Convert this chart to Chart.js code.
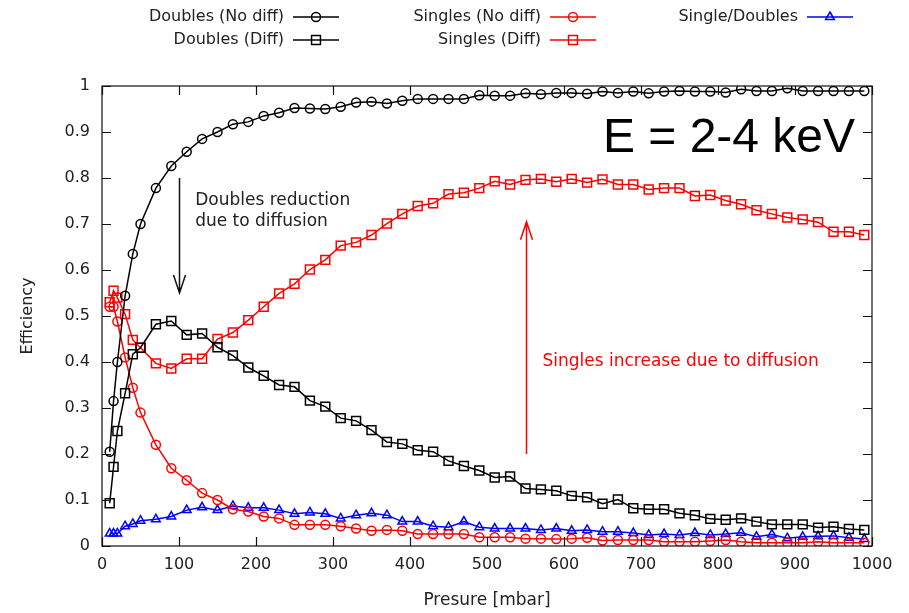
<!DOCTYPE html>
<html>
<head>
<meta charset="utf-8">
<script src="https://cdn.jsdelivr.net/npm/chart.js@4/dist/chart.umd.min.js"></script>
<style>
  body { margin: 0; background: #fff; }
  #wrap { width: 909px; height: 613px; }
</style>
</head>
<body>
<div id="wrap"><canvas id="effChart" width="909" height="613"></canvas></div>
<script>
// pressure points (mbar)
const pressure = [10, 15, 20, 30, 40, 50,
  70, 90, 110, 130, 150, 170, 190, 210, 230, 250,
  270, 290, 310, 330, 350, 370, 390, 410, 430, 450,
  470, 490, 510, 530, 550, 570, 590, 610, 630, 650,
  670, 690, 710, 730, 750, 770, 790, 810, 830, 850,
  870, 890, 910, 930, 950, 970, 990];

const doublesNoDiff = [0.205, 0.315, 0.40, 0.544, 0.635, 0.70,
  0.778, 0.826, 0.857, 0.885, 0.90, 0.917, 0.922, 0.935, 0.942, 0.952,
  0.951, 0.95, 0.955, 0.964, 0.966, 0.962, 0.968, 0.972, 0.972, 0.972,
  0.972, 0.98, 0.979, 0.979, 0.984, 0.982, 0.985, 0.985, 0.983, 0.988,
  0.985, 0.988, 0.984, 0.988, 0.989, 0.988, 0.988, 0.986, 0.993, 0.989,
  0.989, 0.995, 0.989, 0.989, 0.989, 0.989, 0.989];

const doublesDiff = [0.093, 0.172, 0.25, 0.332, 0.417, 0.431,
  0.482, 0.489, 0.459, 0.462, 0.432, 0.414, 0.388, 0.37, 0.35, 0.346,
  0.316, 0.303, 0.278, 0.272, 0.252, 0.226, 0.222, 0.208, 0.205, 0.185,
  0.174, 0.164, 0.149, 0.151, 0.125, 0.123, 0.12, 0.109, 0.106, 0.092,
  0.101, 0.082, 0.08, 0.08, 0.071, 0.067, 0.059, 0.057, 0.06, 0.053,
  0.047, 0.047, 0.047, 0.04, 0.042, 0.037, 0.035];

const singlesNoDiff = [0.52, 0.52, 0.488, 0.41, 0.344, 0.29,
  0.22, 0.169, 0.143, 0.115, 0.10, 0.08, 0.075, 0.064, 0.06, 0.046,
  0.046, 0.046, 0.043, 0.038, 0.033, 0.035, 0.033, 0.026, 0.026, 0.026,
  0.026, 0.019, 0.019, 0.019, 0.016, 0.016, 0.015, 0.016, 0.018, 0.012,
  0.013, 0.013, 0.013, 0.009, 0.009, 0.009, 0.011, 0.013, 0.009, 0.007,
  0.007, 0.007, 0.007, 0.009, 0.007, 0.007, 0.007];

const singlesDiff = [0.53, 0.555, 0.54, 0.504, 0.448, 0.431,
  0.397, 0.386, 0.407, 0.407, 0.45, 0.464, 0.491, 0.52, 0.549, 0.57,
  0.601, 0.622, 0.653, 0.66, 0.676, 0.701, 0.722, 0.739, 0.745, 0.765,
  0.768, 0.778, 0.793, 0.786, 0.796, 0.798, 0.792, 0.798, 0.79, 0.797,
  0.786, 0.786, 0.775, 0.778, 0.778, 0.761, 0.763, 0.751, 0.743, 0.73,
  0.722, 0.714, 0.71, 0.704, 0.683, 0.683, 0.676];

const singleOverDoubles = [0.027, 0.027, 0.027, 0.043, 0.048, 0.055,
  0.058, 0.064, 0.078, 0.084, 0.078, 0.087, 0.083, 0.083, 0.078, 0.07,
  0.073, 0.07, 0.06, 0.067, 0.071, 0.067, 0.053, 0.053, 0.043, 0.041,
  0.053, 0.041, 0.038, 0.038, 0.038, 0.035, 0.038, 0.033, 0.035, 0.031,
  0.031, 0.028, 0.024, 0.026, 0.024, 0.028, 0.024, 0.026, 0.029, 0.02,
  0.025, 0.017, 0.02, 0.021, 0.022, 0.018, 0.015];

const FONT = 'DejaVu Sans';
const TEXT = '#222';

function series(label, ys, color, style, radius) {
  return {
    label: label,
    data: pressure.map((x, i) => ({ x: x, y: ys[i] })),
    borderColor: color,
    backgroundColor: 'rgba(0,0,0,0)',
    borderWidth: 1.5,
    pointStyle: style,
    pointRadius: radius,
    pointBorderWidth: 1.5,
    pointBorderColor: color,
    pointBackgroundColor: 'rgba(0,0,0,0)',
    tension: 0
  };
}

// frame, inward ticks, legend and annotations, gnuplot-like
const decorations = {
  id: 'decorations',
  afterDraw(chart) {
    const ctx = chart.ctx;
    const { left, right, top, bottom } = chart.chartArea;
    const xs = chart.scales.x, ys = chart.scales.y;
    ctx.save();

    ctx.strokeStyle = '#111';
    ctx.lineWidth = 1.2;
    ctx.strokeRect(left, top, right - left, bottom - top);
    ctx.beginPath();
    xs.ticks.forEach(t => {
      const px = Math.round(xs.getPixelForValue(t.value)) + 0.5;
      ctx.moveTo(px, bottom); ctx.lineTo(px, bottom - 9);
      ctx.moveTo(px, top); ctx.lineTo(px, top + 9);
    });
    ys.ticks.forEach(t => {
      const py = Math.round(ys.getPixelForValue(t.value)) + 0.5;
      ctx.moveTo(left, py); ctx.lineTo(left + 9, py);
      ctx.moveTo(right, py); ctx.lineTo(right - 9, py);
    });
    ctx.stroke();

    // legend: three columns, two rows, text right-aligned before the sample
    const colRight = [284, 541, 798];
    const rowY = [17, 40];
    ctx.font = '16px "' + FONT + '"';
    ctx.textBaseline = 'middle';
    chart.data.datasets.forEach((ds, i) => {
      const col = Math.floor(i / 2), row = i % 2;
      const tx = colRight[col], ty = rowY[row];
      ctx.fillStyle = TEXT;
      ctx.textAlign = 'right';
      ctx.fillText(ds.label, tx, ty);
      ctx.strokeStyle = ds.borderColor;
      ctx.lineWidth = 1.5;
      ctx.beginPath();
      ctx.moveTo(tx + 9, ty); ctx.lineTo(tx + 55, ty);
      ctx.stroke();
      ctx.fillStyle = 'rgba(0,0,0,0)';
      Chart.helpers.drawPoint(ctx, {
        pointStyle: ds.pointStyle, radius: ds.pointRadius, rotation: 0, borderWidth: 1.5
      }, tx + 32, ty);
    });

    // arrows
    function arrow(x, y0, y1, color) {
      const px = Math.round(xs.getPixelForValue(x)) + 0.5;
      const pa = ys.getPixelForValue(y0), pb = ys.getPixelForValue(y1);
      const dir = pb > pa ? 1 : -1;
      ctx.strokeStyle = color;
      ctx.lineWidth = 1.5;
      ctx.beginPath();
      ctx.moveTo(px, pa); ctx.lineTo(px, pb);
      ctx.moveTo(px - 6, pb - dir * 18); ctx.lineTo(px, pb); ctx.lineTo(px + 6, pb - dir * 18);
      ctx.stroke();
    }
    arrow(100, 0.8, 0.55, '#111');
    arrow(550, 0.2, 0.705, '#ff0000');

    ctx.textAlign = 'left';
    ctx.fillStyle = TEXT;
    ctx.font = '17px "' + FONT + '"';
    ctx.fillText('Doubles reduction', xs.getPixelForValue(121), ys.getPixelForValue(0.75));
    ctx.fillText('due to diffusion', xs.getPixelForValue(121), ys.getPixelForValue(0.705));
    ctx.fillStyle = '#ff0000';
    ctx.fillText('Singles increase due to diffusion', xs.getPixelForValue(572), ys.getPixelForValue(0.402));

    ctx.fillStyle = '#000';
    ctx.font = '48px "Liberation Sans"';
    ctx.textAlign = 'right';
    ctx.textBaseline = 'alphabetic';
    ctx.fillText('E = 2-4 keV', xs.getPixelForValue(978), ys.getPixelForValue(0.857));
    ctx.restore();
  }
};

new Chart(document.getElementById('effChart'), {
  type: 'line',
  data: {
    datasets: [
      series('Doubles (No diff)', doublesNoDiff, '#000000', 'circle', 4.5),
      series('Doubles (Diff)', doublesDiff, '#000000', 'rect', 6.3),
      series('Singles (No diff)', singlesNoDiff, '#ff0000', 'circle', 4.5),
      series('Singles (Diff)', singlesDiff, '#ff0000', 'rect', 6.3),
      series('Single/Doubles', singleOverDoubles, '#0000ff', 'triangle', 5)
    ]
  },
  options: {
    responsive: false,
    animation: false,
    layout: { padding: { top: 86, right: 37, left: 0, bottom: 0 } },
    plugins: {
      legend: { display: false },
      tooltip: { enabled: false }
    },
    scales: {
      x: {
        type: 'linear',
        min: 0,
        max: 1000,
        afterFit: s => { s.height = 67; },
        grid: { display: false, drawTicks: false },
        border: { display: false },
        ticks: {
          stepSize: 100,
          padding: 9,
          color: TEXT,
          font: { family: FONT, size: 16 },
          maxRotation: 0,
          callback: v => String(v)
        },
        title: {
          display: true,
          text: 'Presure [mbar]',
          color: TEXT,
          font: { family: FONT, size: 17 },
          padding: { top: 0, bottom: 2 }
        }
      },
      y: {
        min: 0,
        max: 1,
        afterFit: s => { s.width = 102; },
        grid: { display: false, drawTicks: false },
        border: { display: false },
        ticks: {
          stepSize: 0.1,
          padding: 12,
          color: TEXT,
          font: { family: FONT, size: 16 },
          callback: v => String(Math.round(v * 10) / 10)
        },
        title: {
          display: true,
          text: 'Efficiency',
          color: TEXT,
          font: { family: FONT, size: 16 },
          padding: { top: 18, bottom: 0 }
        }
      }
    }
  },
  plugins: [decorations]
});
</script>
</body>
</html>
